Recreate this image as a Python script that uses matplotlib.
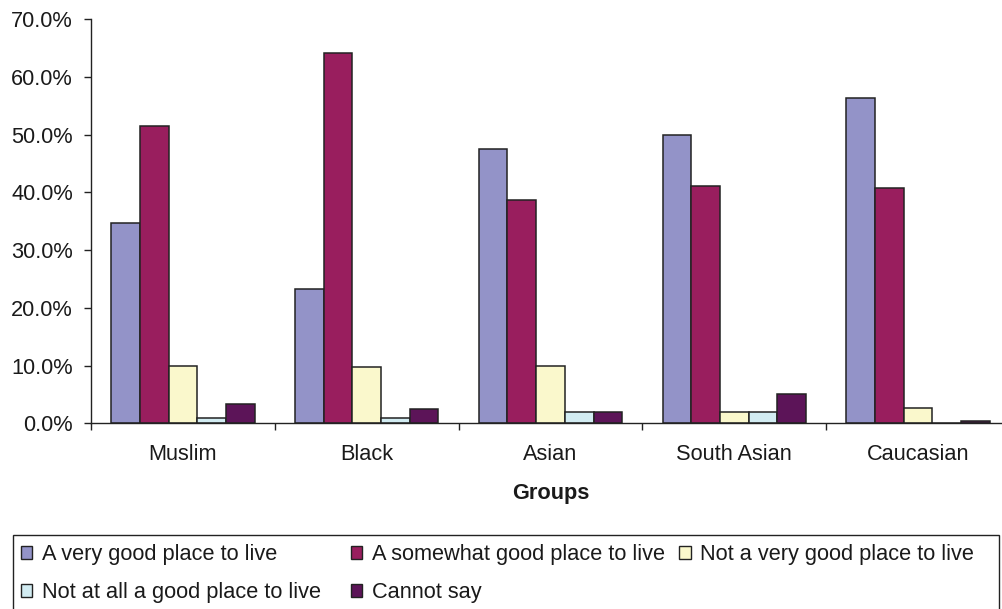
import numpy as np
import matplotlib
matplotlib.use("Agg")
import matplotlib.pyplot as plt
from matplotlib.patches import Rectangle
from matplotlib.ticker import FuncFormatter, FixedLocator

plt.rcParams['font.family'] = ['Liberation Sans', 'DejaVu Sans']

groups = ["Muslim", "Black", "Asian", "South Asian", "Caucasian"]
series_names = [
    "A very good place to live",
    "A somewhat good place to live",
    "Not a very good place to live",
    "Not at all a good place to live",
    "Cannot say",
]
very_good = [34.6, 23.3, 47.5, 49.9, 56.4]
somewhat_good = [51.4, 64.1, 38.6, 41.1, 40.8]
not_very_good = [10.0, 9.8, 10.0, 2.0, 2.7]
not_at_all_good = [0.9, 0.9, 2.0, 2.0, 0.0]
cannot_say = [3.4, 2.4, 2.0, 5.1, 0.4]
y_ticks = [0, 10, 20, 30, 40, 50, 60, 70]

series = [very_good, somewhat_good, not_very_good, not_at_all_good, cannot_say]
colors = ["#9393C8", "#991E5E", "#FAF8CC", "#D2ECF2", "#5C1458"]
edge = "#222222"
text_color = "#1a1a1a"
fs = 15.7

W, H = 1002, 609
fig = plt.figure(figsize=(W / 100, H / 100), dpi=100)

# plot area in pixel coordinates
left_px, right_px, top_px, bottom_px = 91, 1010, 19, 423.3
ax = fig.add_axes([left_px / W, 1 - bottom_px / H,
                   (right_px - left_px) / W, (bottom_px - top_px) / H])

x = np.arange(len(groups))
bar_w = 0.156
offsets = (np.arange(len(series)) - 2) * bar_w
for vals, off, col in zip(series, offsets, colors):
    ax.bar(x + off, vals, width=bar_w, color=col, edgecolor=edge,
           linewidth=1.1, zorder=2)

ax.set_xlim(-0.5, len(groups) - 0.5)
ax.set_ylim(0, 70)

ax.spines['top'].set_visible(False)
ax.spines['right'].set_visible(False)
for s in ('left', 'bottom'):
    ax.spines[s].set_linewidth(1.0)
    ax.spines[s].set_color(edge)

ax.yaxis.set_major_locator(FixedLocator(y_ticks))
ax.yaxis.set_major_formatter(FuncFormatter(lambda v, p: f"{v:.1f}%"))
ax.tick_params(axis='y', direction='out', length=5, width=1.0,
               color=edge, labelsize=fs, pad=8, labelcolor=text_color)

ax.set_xticks(x)
ax.set_xticklabels(groups)
ax.set_xticks(np.arange(len(groups) + 1) - 0.5, minor=True)
ax.tick_params(axis='x', which='major', length=0, labelsize=fs, pad=15,
               labelcolor=text_color)
ax.tick_params(axis='x', which='minor', direction='out', length=5,
               width=1.0, color=edge)
ax.set_xlabel("Groups", fontsize=fs, fontweight='bold', labelpad=13,
              color=text_color)

# legend frame
fig.patches.append(Rectangle((13 / W, 1 - 640 / H), (999 - 13) / W,
                             (640 - 535) / H, transform=fig.transFigure,
                             fill=False, edgecolor=edge, linewidth=1.0))

# legend entries laid out in equal-width columns, row by row
handles = [Rectangle((0, 0), 1, 1, facecolor=c, edgecolor=edge, linewidth=1.0)
           for c in colors]
columns = [[0, 3], [1, 4], [2]]
col_x = [20.5, 350.5, 679]
for idx, cx in zip(columns, col_x):
    leg = fig.legend([handles[i] for i in idx], [series_names[i] for i in idx],
                     ncol=1, loc='upper left',
                     bbox_to_anchor=(cx / W, 1 - 544 / H),
                     frameon=False, fontsize=fs, handlelength=0.55,
                     handleheight=0.55, handletextpad=0.42,
                     labelspacing=0.8, borderpad=0, borderaxespad=0)
    for t in leg.get_texts():
        t.set_color(text_color)

fig.savefig("out.png", dpi=100)
